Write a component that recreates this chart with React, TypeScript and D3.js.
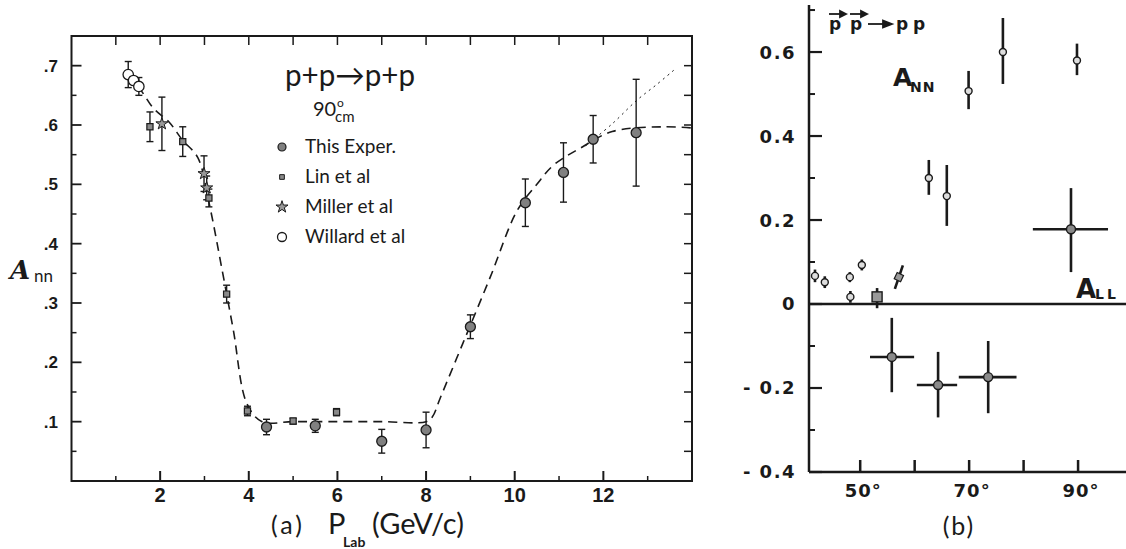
import React from "react";
import * as d3 from "d3";

// ---- panel (a) data: A_nn vs P_lab ----
const thisExper = [
  { x: 4.4, y: 0.091, e: 0.013 },
  { x: 5.5, y: 0.093, e: 0.011 },
  { x: 7.0, y: 0.067, e: 0.02 },
  { x: 8.0, y: 0.086, e: 0.03 },
  { x: 9.0, y: 0.26, e: 0.02 },
  { x: 10.24, y: 0.469, e: 0.04 },
  { x: 11.1, y: 0.52, e: 0.05 },
  { x: 11.77, y: 0.576, e: 0.04 },
  { x: 12.74, y: 0.587, e: 0.09 },
];
const linEtAl = [
  { x: 1.77, y: 0.597, e: 0.025 },
  { x: 2.51, y: 0.572, e: 0.025 },
  { x: 3.1, y: 0.477, e: 0.015 },
  { x: 3.5, y: 0.315, e: 0.015 },
  { x: 3.97, y: 0.118, e: 0.008 },
  { x: 5.0, y: 0.101, e: 0.005 },
  { x: 5.98, y: 0.116, e: 0.006 },
];
const millerEtAl = [
  { x: 2.04, y: 0.602, e: 0.045 },
  { x: 2.99, y: 0.518, e: 0.03 },
  { x: 3.05, y: 0.494, e: 0.02 },
];
const willardEtAl = [
  { x: 1.28, y: 0.685, e: 0.022 },
  { x: 1.4, y: 0.675, e: 0 },
  { x: 1.52, y: 0.665, e: 0.015 },
];
const fitDashed: [number, number][] = [
  [1.3, 0.685], [1.6, 0.655], [1.85, 0.628], [2.2, 0.605], [2.5, 0.575], [2.85, 0.545],
  [3.1, 0.47], [3.4, 0.355], [3.65, 0.255], [3.96, 0.13], [4.3, 0.1], [5, 0.1],
  [6, 0.1], [7, 0.1], [8, 0.1], [8.14, 0.108], [8.32, 0.14], [8.83, 0.232],
  [9.45, 0.344], [10.05, 0.455], [10.5, 0.5], [10.87, 0.532], [11.48, 0.561],
  [12.2, 0.589], [13.35, 0.597], [14, 0.595],
];
const fitDotted: [number, number][] = [
  [11.6, 0.565], [12.2, 0.602], [12.76, 0.642], [13.2, 0.668], [13.6, 0.693],
];
const xTicksA = [2, 4, 6, 8, 10, 12];
const yTicksA = [0.1, 0.2, 0.3, 0.4, 0.5, 0.6, 0.7];

// ---- panel (b) data: A_NN, A_LL vs angle ----
const annSmall = [
  { x: 41.7, y: 0.067, e: 0.015 },
  { x: 43.5, y: 0.052, e: 0.014 },
  { x: 48.1, y: 0.064, e: 0.012 },
  { x: 50.3, y: 0.093, e: 0.013 },
  { x: 48.2, y: 0.017, e: 0.014 },
];
const annPoints = [
  { x: 62.6, y: 0.3, lo: 0.26, hi: 0.343 },
  { x: 65.9, y: 0.257, lo: 0.186, hi: 0.331 },
  { x: 69.9, y: 0.507, lo: 0.464, hi: 0.555 },
  { x: 76.2, y: 0.6, lo: 0.524, hi: 0.681 },
  { x: 89.8, y: 0.58, lo: 0.545, hi: 0.62 },
];
const crossPoints = [
  { x: 88.7, y: 0.178, xlo: 81.7, xhi: 95.5, lo: 0.076, hi: 0.276 },
  { x: 55.8, y: -0.126, xlo: 51.8, xhi: 59.9, lo: -0.21, hi: -0.033 },
  { x: 64.3, y: -0.193, xlo: 60.4, xhi: 67.8, lo: -0.27, hi: -0.114 },
  { x: 73.5, y: -0.174, xlo: 68.1, xhi: 78.7, lo: -0.26, hi: -0.088 },
];
const allSmall = [{ x: 53.1, y: 0.017, lo: -0.01, hi: 0.038 }];
const slashPoint = [{ x: 57.1, y: 0.064, lo: 0.036, hi: 0.092 }];
const xTicksB = [50, 60, 70, 80, 90];
const xLabelsB = [50, 70, 90];
const yTicksB = [-0.4, -0.2, 0, 0.2, 0.4, 0.6];
const yLabelsB = ["- 0.4", "- 0.2", "0", "0.2", "0.4", "0.6"];

const ink = "#1a1a1a";

const App = () => {
  const x = d3.scaleLinear().domain([0, 14]).range([71.5, 692]);
  const y = d3.scaleLinear().domain([0, 0.75]).range([481, 36]);
  const xb = d3.scaleLinear().domain([40.6, 98.8]).range([809, 1126]);
  const yb = d3.scaleLinear().domain([-0.4, 0.712]).range([472, 5]);

  const line = d3.line<[number, number]>()
    .x((d) => x(d[0]))
    .y((d) => y(d[1]))
    .curve(d3.curveCatmullRom);

  const star = d3.symbol().type(d3.symbolStar).size(45)();
  const square = d3.symbol().type(d3.symbolSquare).size(38)();

  const errA = (d: { x: number; y: number; e: number }, i: number) =>
    d.e > 0 ? (
      <g key={"e" + i} stroke={ink} strokeWidth={1.4}>
        <line x1={x(d.x)} x2={x(d.x)} y1={y(d.y - d.e)} y2={y(d.y + d.e)} />
        <line x1={x(d.x) - 3.5} x2={x(d.x) + 3.5} y1={y(d.y - d.e)} y2={y(d.y - d.e)} />
        <line x1={x(d.x) - 3.5} x2={x(d.x) + 3.5} y1={y(d.y + d.e)} y2={y(d.y + d.e)} />
      </g>
    ) : null;

  const minorX = d3.range(1, 14, 2);
  const topX = d3.range(1, 14, 1);
  const minorY = d3.range(0.05, 0.75, 0.1);
  const rightY = d3.range(0.05, 0.75, 0.05);
  const minorYB = d3.range(-0.3, 0.71, 0.2);

  const tickFont = "'Liberation Sans', Arial, sans-serif";
  const heavyFont = "'DejaVu Sans', sans-serif";
  const gothic = "Lato, 'Open Sans', sans-serif";

  return (
    <svg width={1126} height={549} style={{ position: "absolute", left: 0, top: 0, background: "#fff" }}>
      {/* ===== panel (a) ===== */}
      <rect x={x(0)} y={y(0.75)} width={x(14) - x(0)} height={y(0) - y(0.75)}
        fill="none" stroke={ink} strokeWidth={2} />
      {xTicksA.map((t) => (
        <g key={"xa" + t}>
          <line x1={x(t)} x2={x(t)} y1={y(0)} y2={y(0) - 10} stroke={ink} strokeWidth={2} />
          <text x={x(t)} y={502} textAnchor="middle" fontFamily={tickFont} fontWeight="bold"
            fontSize={20} fill={ink}>{t}</text>
        </g>
      ))}
      {minorX.map((t) => (
        <line key={"mx" + t} x1={x(t)} x2={x(t)} y1={y(0)} y2={y(0) - 5} stroke={ink} strokeWidth={1.5} />
      ))}
      {topX.map((t) => (
        <line key={"tx" + t} x1={x(t)} x2={x(t)} y1={y(0.75)} y2={y(0.75) + 9} stroke={ink} strokeWidth={1.5} />
      ))}
      {yTicksA.map((t) => (
        <g key={"ya" + t}>
          <line x1={x(0)} x2={x(0) + 10} y1={y(t)} y2={y(t)} stroke={ink} strokeWidth={1.8} />
          <text x={58} y={y(t)} dy="0.35em" textAnchor="end" fontFamily={tickFont} fontWeight="bold"
            fontSize={17} fill={ink}>{"." + Math.round(t * 10)}</text>
        </g>
      ))}
      {minorY.map((t) => (
        <line key={"my" + t} x1={x(0)} x2={x(0) + 5} y1={y(t)} y2={y(t)} stroke={ink} strokeWidth={1.5} />
      ))}
      {rightY.map((t) => (
        <line key={"ry" + t} x1={x(14)} x2={x(14) - 8} y1={y(t)} y2={y(t)} stroke={ink} strokeWidth={1.5} />
      ))}

      {/* fitted curves */}
      <path d={line(fitDashed) || ""} fill="none" stroke={ink} strokeWidth={1.6} strokeDasharray="9,6" />
      <path d={line(fitDotted) || ""} fill="none" stroke={ink} strokeWidth={1} strokeDasharray="2,4" />

      {/* error bars */}
      {[...thisExper, ...linEtAl, ...millerEtAl, ...willardEtAl].map(errA)}

      {/* markers */}
      {thisExper.map((d, i) => (
        <circle key={"te" + i} cx={x(d.x)} cy={y(d.y)} r={5} fill="#808080" stroke={ink} strokeWidth={1.3} />
      ))}
      {linEtAl.map((d, i) => (
        <path key={"li" + i} d={square || ""} transform={`translate(${x(d.x)},${y(d.y)})`}
          fill="#8a8a8a" stroke={ink} strokeWidth={1.2} />
      ))}
      {millerEtAl.map((d, i) => (
        <path key={"mi" + i} d={star || ""} transform={`translate(${x(d.x)},${y(d.y)})`}
          fill="#999" stroke={ink} strokeWidth={1} />
      ))}
      {willardEtAl.map((d, i) => (
        <circle key={"wi" + i} cx={x(d.x)} cy={y(d.y)} r={5.2} fill="#fff" stroke={ink} strokeWidth={1.3} />
      ))}

      {/* title & legend */}
      <text x={285} y={86} fontFamily={gothic} fontSize={30} fill={ink} textLength={130}
        lengthAdjust="spacingAndGlyphs">p+p→p+p</text>
      <text x={313} y={116} fontFamily={gothic} fontSize={20} fill={ink}>90</text>
      <text x={337} y={107} fontFamily={gothic} fontSize={12} fill={ink}>o</text>
      <text x={335} y={122} fontFamily={gothic} fontSize={15} fill={ink}>cm</text>

      <circle cx={282} cy={147} r={4} fill="#808080" stroke={ink} strokeWidth={1.2} />
      <text x={305} y={153} fontFamily={gothic} fontSize={19} fill={ink}>This Exper.</text>
      <path d={d3.symbol().type(d3.symbolSquare).size(22)() || ""} transform="translate(282,177)"
        fill="#8a8a8a" stroke={ink} strokeWidth={1} />
      <text x={305} y={183} fontFamily={gothic} fontSize={19} fill={ink}>Lin et al</text>
      <path d={star || ""} transform="translate(282,207)" fill="#999" stroke={ink} strokeWidth={1} />
      <text x={305} y={213} fontFamily={gothic} fontSize={19} fill={ink}>Miller et al</text>
      <circle cx={282} cy={237} r={4.5} fill="#fff" stroke={ink} strokeWidth={1.3} />
      <text x={305} y={243} fontFamily={gothic} fontSize={19} fill={ink}>Willard et al</text>

      {/* axis titles */}
      <text x={10} y={279} fontFamily="'DejaVu Serif', serif" fontStyle="italic" fontWeight="bold"
        fontSize={26} fill={ink}>A</text>
      <text x={34} y={282} fontFamily={gothic} fontSize={17} fill={ink}>nn</text>
      <text x={271} y={534} fontFamily={gothic} fontSize={25} letterSpacing={3} fill={ink}>(a)</text>
      <text x={328} y={534} fontFamily={gothic} fontSize={29} fill={ink}>P</text>
      <text x={343} y={547} fontFamily={gothic} fontWeight="bold" fontSize={14} fill={ink}>Lab</text>
      <text x={372} y={534} fontFamily={gothic} fontSize={29} fill={ink}>(GeV/c)</text>

      {/* ===== panel (b) ===== */}
      <line x1={xb(40.6)} x2={xb(40.6)} y1={yb(0.712)} y2={yb(-0.4)} stroke={ink} strokeWidth={2.5} />
      <line x1={xb(40.6)} x2={1126} y1={yb(-0.4)} y2={yb(-0.4)} stroke={ink} strokeWidth={2.5} />
      <line x1={xb(40.6)} x2={1126} y1={yb(0)} y2={yb(0)} stroke={ink} strokeWidth={2.5} />
      {yTicksB.map((t, i) => (
        <g key={"yb" + t}>
          <line x1={xb(40.6)} x2={xb(40.6) + 13} y1={yb(t)} y2={yb(t)} stroke={ink} strokeWidth={2.2} />
          <text x={796} y={yb(t)} dy="0.36em" textAnchor="end" fontFamily={heavyFont} fontWeight="bold"
            fontSize={18} letterSpacing={1.5} fill={ink}>{yLabelsB[i]}</text>
        </g>
      ))}
      {minorYB.map((t) => (
        <line key={"myb" + t} x1={xb(40.6)} x2={xb(40.6) + 6} y1={yb(t)} y2={yb(t)} stroke={ink} strokeWidth={2} />
      ))}
      {xTicksB.map((t) => (
        <line key={"xb" + t} x1={xb(t)} x2={xb(t)} y1={yb(-0.4)} y2={yb(-0.4) - 12} stroke={ink} strokeWidth={2.5} />
      ))}
      {xLabelsB.map((t) => (
        <text key={"xbl" + t} x={xb(t) + 3} y={497} textAnchor="middle" fontFamily={heavyFont}
          fontWeight="bold" fontSize={18} letterSpacing={1} fill={ink}>{t + "°"}</text>
      ))}
      <text x={959} y={535} textAnchor="middle" fontFamily={gothic} fontSize={25} letterSpacing={2} fill={ink}>(b)</text>

      {/* reaction label */}
      <g fontFamily={heavyFont} fontWeight="bold" fontSize={17} fill={ink}>
        <text x={829} y={30}>p</text>
        <text x={850} y={30}>p</text>
        <text x={896} y={30}>p</text>
        <text x={913} y={30}>p</text>
      </g>
      <g stroke={ink} strokeWidth={1.8} fill={ink}>
        <line x1={829} x2={843} y1={14} y2={14} />
        <path d="M846,14 L840,11 L840,17 Z" />
        <line x1={850} x2={864} y1={14} y2={14} />
        <path d="M867,14 L861,11 L861,17 Z" />
        <line x1={868} x2={884} y1={24} y2={24} />
        <path d="M892,24 L883,20.5 L883,27.5 Z" />
      </g>
      <text x={893} y={86} fontFamily={heavyFont} fontWeight="bold" fontSize={25} fill={ink}>A</text>
      <text x={910} y={92} fontFamily={heavyFont} fontWeight="bold" fontSize={14} letterSpacing={1} fill={ink}>NN</text>
      <text x={1076} y={298} fontFamily={heavyFont} fontWeight="bold" fontSize={26} fill={ink}>A</text>
      <text x={1095} y={299} fontFamily={heavyFont} fontWeight="bold" fontSize={14} letterSpacing={3} fill={ink}>LL</text>

      {/* data */}
      <g stroke={ink} strokeWidth={2.6}>
        {annSmall.map((d, i) => (
          <line key={"as" + i} x1={xb(d.x)} x2={xb(d.x)} y1={yb(d.y - d.e)} y2={yb(d.y + d.e)} />
        ))}
        {annPoints.map((d, i) => (
          <line key={"ap" + i} x1={xb(d.x)} x2={xb(d.x)} y1={yb(d.lo)} y2={yb(d.hi)} />
        ))}
        {crossPoints.map((d, i) => (
          <g key={"cp" + i}>
            <line x1={xb(d.x)} x2={xb(d.x)} y1={yb(d.lo)} y2={yb(d.hi)} />
            <line x1={xb(d.xlo)} x2={xb(d.xhi)} y1={yb(d.y)} y2={yb(d.y)} />
          </g>
        ))}
        {allSmall.map((d, i) => (
          <line key={"al" + i} x1={xb(d.x)} x2={xb(d.x)} y1={yb(d.lo)} y2={yb(d.hi)} />
        ))}
        {slashPoint.map((d, i) => (
          <line key={"sl" + i} x1={xb(d.x) - 4} x2={xb(d.x) + 4} y1={yb(d.lo)} y2={yb(d.hi)} />
        ))}
      </g>
      {annSmall.map((d, i) => (
        <circle key={"asc" + i} cx={xb(d.x)} cy={yb(d.y)} r={3.5} fill="#ddd" stroke={ink} strokeWidth={1.4} />
      ))}
      {annPoints.map((d, i) => (
        <circle key={"apc" + i} cx={xb(d.x)} cy={yb(d.y)} r={3.5} fill="#ddd" stroke={ink} strokeWidth={1.4} />
      ))}
      {crossPoints.map((d, i) => (
        <circle key={"cpc" + i} cx={xb(d.x)} cy={yb(d.y)} r={4.5} fill="#8a8a8a" stroke={ink} strokeWidth={1.4} />
      ))}
      {allSmall.map((d, i) => (
        <rect key={"alr" + i} x={xb(d.x) - 5} y={yb(d.y) - 5} width={10} height={10}
          fill="#999" stroke={ink} strokeWidth={1.4} />
      ))}
      {slashPoint.map((d, i) => (
        <rect key={"slr" + i} x={xb(d.x) - 3.5} y={yb(d.y) - 3.5} width={7} height={7}
          transform={`rotate(25 ${xb(d.x)} ${yb(d.y)})`} fill="#999" stroke={ink} strokeWidth={1.2} />
      ))}
    </svg>
  );
};

export default App;
